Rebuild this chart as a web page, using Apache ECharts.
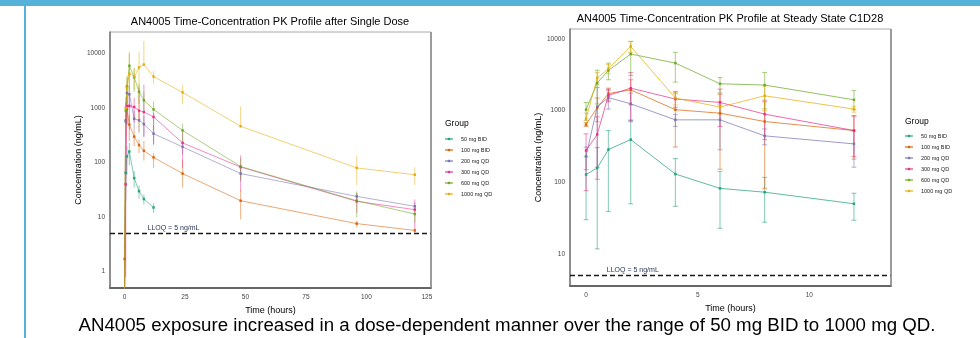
<!DOCTYPE html>
<html><head><meta charset="utf-8">
<script src="https://cdn.jsdelivr.net/npm/echarts@6/dist/echarts.min.js"></script>
<style>html,body{margin:0;padding:0;background:#fff;overflow:hidden}#c{width:980px;height:338px}</style>
</head><body><div id="c"></div>
<script>
// ---------------- data ----------------
const groups = ['50 mg BID', '100 mg BID', '200 mg QD', '300 mg QD', '600 mg QD', '1000 mg QD'];
const colors = ['#1B9E77', '#D95F02', '#7570B3', '#E7298A', '#66A61E', '#E6AB02'];

// Single dose (left panel), hours
const sdTime = [0, 0.5, 1, 2, 4, 6, 8, 12, 24, 48, 96, 120];
const sd50   = [0.3, 65, 130, 160, 52, 30, 21.5, 15, null, null, null, null];
const sd50Lo = [null, 20, 60, 90, 35, 22, 17, 12, null, null, null, null];
const sd50Hi = [null, 110, 200, 230, 70, 38, 26, 18, null, null, null, null];
const sd100   = [1.7, 600, 950, 500, 300, 210, 165, 125, 63, 20, 7.6, 5.7];
const sd100Lo = [0.6, 250, 500, 250, 200, 150, 110, 80, 35, 9, 6.5, 5.2];
const sd100Hi = [3.2, 950, 1400, 750, 400, 270, 250, 150, 113, 31, 8.7, 6.2];
const sd200   = [0.3, 570, 1900, 1800, 640, 600, 510, 340, 195, 63, 24, 15.8];
const sd200Lo = [null, 300, 1200, 1000, 400, 350, 300, 210, 140, 45, 20, 13];
const sd200Hi = [null, 850, 2600, 2600, 900, 850, 720, 460, 250, 80, 28, 18.5];
const sd300   = [0.3, 40, 1100, 1100, 1050, 900, 850, 690, 230, 83, 19.5, 13.7];
const sd300Lo = [null, 0.8, 500, 400, 550, 550, 300, 220, 80, 30, 12, 5.9];
const sd300Hi = [null, 265, 1700, 1800, 1550, 2400, 2700, 830, 360, 135, 27, 21];
const sd600   = [0.3, 900, 2500, 6000, 3700, 2000, 1400, 950, 390, 85, 20, 11.4];
const sd600Lo = [null, 500, 1200, 2000, 2000, 1200, 800, 400, 250, 50, 9.8, 8];
const sd600Hi = [null, 1300, 3800, 10000, 5400, 2800, 2000, 1340, 520, 120, 30, 15];
const sd1000   = [0.3, 1000, 2400, 4300, 3800, 5600, 6300, 3800, 1950, 465, 80, 60];
const sd1000Lo = [null, 400, 1200, 1500, 2200, 380, null, 2800, 1200, null, 39, 39];
const sd1000Hi = [null, 1600, 3600, 11000, 5400, 10800, 17300, 4800, 2700, 1070, 134, 82];

// Steady state C1D28 (right panel), hours
const ssTime = [0, 0.5, 1, 2, 4, 6, 8, 12];
const ss50   = [128, 158, 286, 394, 130, 82, 72.5, 50];
const ss50Lo = [30, 11.7, 39, 50, 46, 22.7, 27.6, 29.4];
const ss50Hi = [226, 305, 527, 738, 214, 142, 117, 70];
const ss100   = [640, 1100, 1730, 1950, 1030, 920, 704, 527];
const ss100Lo = [600, 700, 1400, 1200, 310, 152, 82, 210];
const ss100Hi = [680, 1500, 2060, 2700, 1750, 1690, 1326, 845];
const ss200   = [231, 1130, 1520, 1245, 743, 743, 444, 343];
const ss200Lo = [150, 162, 1050, 728, 600, 283, 333, 162];
const ss200Hi = [310, 2100, 1990, 1760, 886, 1200, 555, 523];
const ss300   = [277, 465, 1630, 2060, 1450, 1300, 893, 527];
const ss300Lo = [76, 110, 1330, 700, 1110, 600, 393, 228];
const ss300Hi = [474, 820, 1930, 3400, 1850, 2000, 1393, 845];
const ss600   = [1030, 2430, 3640, 6170, 4610, 2370, 2275, 1416];
const ss600Lo = [730, 1240, 2700, 3100, 2500, 1760, 1060, 1025];
const ss600Hi = [1300, 3660, 4600, 9250, 6500, 2900, 3410, 1910];
const ss1000   = [770, 2850, 3840, 7880, 1500, 1120, 1610, 1050];
const ss1000Lo = [620, 2300, 3300, 6500, 1200, 900, 1000, 950];
const ss1000Hi = [920, 3400, 4400, 9250, 1800, 1350, 2200, 1150];

const xTicksSD = [0, 25, 50, 75, 100, 125];
const xTicksSS = [0, 5, 10];
const lloq = 5;
const titles = ['AN4005 Time-Concentration PK Profile after Single Dose',
                'AN4005 Time-Concentration PK Profile at Steady State C1D28'];
const caption = 'AN4005 exposure increased in a dose-dependent manner over the range of 50 mg BID to 1000 mg QD.';

// ---------------- build ----------------
const FONT = '"Liberation Sans", Arial, sans-serif';
const sdMeans = [sd50, sd100, sd200, sd300, sd600, sd1000];
const sdLos = [sd50Lo, sd100Lo, sd200Lo, sd300Lo, sd600Lo, sd1000Lo];
const sdHis = [sd50Hi, sd100Hi, sd200Hi, sd300Hi, sd600Hi, sd1000Hi];
const ssMeans = [ss50, ss100, ss200, ss300, ss600, ss1000];
const ssLos = [ss50Lo, ss100Lo, ss200Lo, ss300Lo, ss600Lo, ss1000Lo];
const ssHis = [ss50Hi, ss100Hi, ss200Hi, ss300Hi, ss600Hi, ss1000Hi];

const G = [
  {left: 110, top: 32, width: 321, height: 256},
  {left: 570, top: 29, width: 321, height: 257}
];

const chart = echarts.init(document.getElementById('c'));

function lineSeries(gi, k, times, vals, withLloq) {
  const data = [];
  times.forEach((t, i) => { if (vals[i] != null) data.push([t, vals[i]]); });
  const s = {
    type: 'line', name: groups[k], xAxisIndex: gi, yAxisIndex: gi, data,
    clip: true, symbol: 'rect', symbolSize: 2.5, z: 3,
    lineStyle: {color: colors[k], width: 1, opacity: gi === 0 ? 0.55 : 0.7},
    itemStyle: {color: colors[k], opacity: 0.9},
    emphasis: {disabled: true}
  };
  if (withLloq) {
    s.markLine = {
      silent: true, symbol: 'none', label: {show: false}, animation: false,
      lineStyle: {color: '#1a1a1a', type: [5, 3], width: 1.4},
      data: [{yAxis: lloq}]
    };
  }
  return s;
}

function errSeries(gi, k, times, means, lo, hi, cap, opa) {
  const data = [];
  times.forEach((t, i) => {
    if (hi[i] != null && means[i] != null) data.push([t, lo[i] != null ? lo[i] : means[i], hi[i]]);
  });
  return {
    type: 'custom', name: 'err ' + groups[k], xAxisIndex: gi, yAxisIndex: gi, clip: true, silent: true, z: 2,
    encode: {x: 0, y: [1, 2]},
    data,
    renderItem(params, api) {
      const x = api.value(0), l = api.value(1), h = api.value(2);
      const pL = api.coord([x, l]), pH = api.coord([x, h]);
      const st = {stroke: colors[k], lineWidth: 1.1, opacity: opa};
      const ch = [{type: 'line', shape: {x1: pL[0], y1: pL[1], x2: pH[0], y2: pH[1]}, style: st}];
      if (cap > 0) {
        const a = api.coord([x - cap, h]), b = api.coord([x + cap, h]);
        const c = api.coord([x - cap, l]), d = api.coord([x + cap, l]);
        ch.push({type: 'line', shape: {x1: a[0], y1: a[1], x2: b[0], y2: b[1]}, style: st});
        ch.push({type: 'line', shape: {x1: c[0], y1: c[1], x2: d[0], y2: d[1]}, style: st});
      }
      return {type: 'group', children: ch};
    }
  };
}

const series = [];
for (let k = 0; k < 6; k++) series.push(errSeries(0, k, sdTime, sdMeans[k], sdLos[k], sdHis[k], 0, 0.45));
for (let k = 0; k < 6; k++) series.push(errSeries(1, k, ssTime, ssMeans[k], ssLos[k], ssHis[k], 0.11, 0.5));
for (let k = 0; k < 6; k++) series.push(lineSeries(0, k, sdTime, sdMeans[k], k === 0));
for (let k = 0; k < 6; k++) series.push(lineSeries(1, k, ssTime, ssMeans[k], k === 0));

function yAx(gi, min, max, gap) {
  return {
    type: 'log', gridIndex: gi, min, max, logBase: 10,
    name: 'Concentration (ng/mL)', nameLocation: 'middle', nameGap: gap,
    nameTextStyle: {fontFamily: FONT, fontSize: 9, color: '#000'},
    axisLine: {show: true, onZero: false, lineStyle: {color: '#777', width: 1.5}},
    axisTick: {show: false}, splitLine: {show: false}, minorTick: {show: false},
    axisLabel: {
      fontFamily: FONT, fontSize: 6.5, color: '#444', margin: 5,
      showMinLabel: false, showMaxLabel: false,
      formatter: v => String(Math.round(v))
    }
  };
}
function xAx(gi, min, max, ticks) {
  return {
    type: 'value', gridIndex: gi, min, max,
    name: 'Time (hours)', nameLocation: 'middle', nameGap: 16,
    nameTextStyle: {fontFamily: FONT, fontSize: 9, color: '#000'},
    axisLine: {show: true, onZero: false, lineStyle: {color: '#666', width: 2}},
    axisTick: {show: false}, splitLine: {show: false},
    axisLabel: {fontFamily: FONT, fontSize: 6.5, color: '#444', margin: 6, customValues: ticks,
      formatter: v => String(v)}
  };
}

function legendAt(left, top) {
  return {
    orient: 'vertical', left, top, data: groups.slice(), padding: 0,
    itemWidth: 8, itemHeight: 3, itemGap: 5, selectedMode: false,
    textStyle: {fontFamily: FONT, fontSize: 5.5, color: '#222', lineHeight: 6, padding: [0, 0, 0, 3]},
    inactiveColor: '#ccc'
  };
}

chart.setOption({
  animation: false,
  backgroundColor: '#fff',
  grid: G.map(g => Object.assign({show: true, borderColor: '#aaa', borderWidth: 1, containLabel: false}, g)),
  xAxis: [xAx(0, -6, 126.7, xTicksSD), xAx(1, -0.72, 13.66, xTicksSS)],
  yAxis: [yAx(0, 0.5, 25000, 27), yAx(1, 3.55, 13800, 24)],
  legend: [legendAt(444, 136), legendAt(904, 133)],
  series
});

function place() {
  const pL = chart.convertToPixel({gridIndex: 0}, [9.5, lloq]);
  const pR = chart.convertToPixel({gridIndex: 1}, [0.93, lloq]);
  const txt = (x, y, text, size, extra) => Object.assign({
    type: 'text', x, y, silent: true,
    style: Object.assign({text, font: size + 'px ' + FONT, fill: '#000', textAlign: 'center', textVerticalAlign: 'middle'}, extra || {})
  });
  const ln = (x1, y1, x2, y2, color, w) => ({type: 'line', silent: true, shape: {x1, y1, x2, y2}, style: {stroke: color, lineWidth: w}, z: 10});
  chart.setOption({graphic: [
    {type: 'rect', shape: {x: 0, y: 0, width: 980, height: 6}, style: {fill: '#56B1D8'}, silent: true},
    {type: 'rect', shape: {x: 24, y: 0, width: 2, height: 338}, style: {fill: '#56B1D8'}, silent: true},
    txt(270, 22, titles[0], 11),
    txt(730, 19, titles[1], 11),
    txt(445, 124, 'Group', 8.5, {textAlign: 'left'}),
    txt(905, 122, 'Group', 8.5, {textAlign: 'left'}),
    txt(pL[0], pL[1] - 5, 'LLOQ = 5 ng/mL', 7, {textAlign: 'left', fill: '#1f2f55'}),
    txt(pR[0], pR[1] - 5, 'LLOQ = 5 ng/mL', 7, {textAlign: 'left', fill: '#1f2f55'}),
    ln(G[0].left + G[0].width, G[0].top, G[0].left + G[0].width, G[0].top + G[0].height, '#888', 1.5),
    ln(G[1].left + G[1].width, G[1].top, G[1].left + G[1].width, G[1].top + G[1].height, '#888', 1.5),
    txt(507, 326, caption, 18.7)
  ]});
}
place();
</script>
</body></html>
